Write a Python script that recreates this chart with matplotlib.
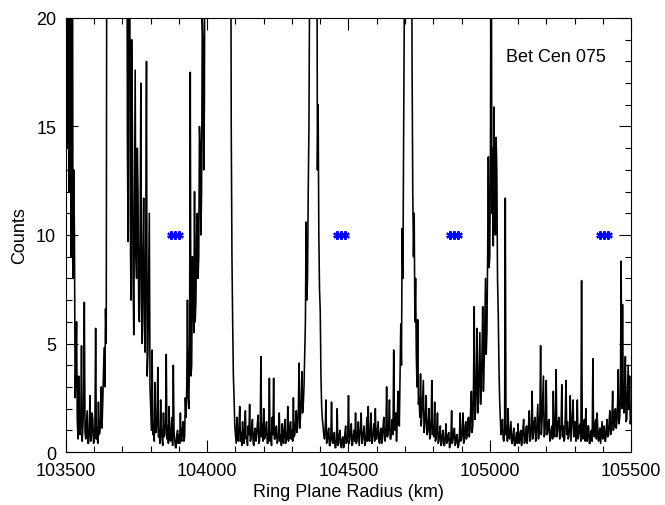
import numpy as np
import matplotlib
matplotlib.use("Agg")
import matplotlib.pyplot as plt
from matplotlib.ticker import MultipleLocator

plt.rcParams["font.family"] = ["Liberation Sans", "DejaVu Sans"]

# radius grid, 2.5 km sampling (km)
radius = np.linspace(103500, 105500, 801)

# counts, two lines per 100 km (values > 20 run off the top)
counts = [
    # 103500
    30, 14, 25, 30, 12, 20, 30, 9, 16, 30, 8, 13, 10, 2.5, 4, 6, 1.5, 0.6, 3.5, 1.0,
    0.8, 1.6, 4.9, 0.5, 1.2, 2.2, 6.9, 0.9, 0.6, 1.3, 1.9, 0.4, 0.4, 1.1, 2.6, 0.5, 0.7, 1.8, 1.5, 0.4,
    # 103600
    0.5, 1.2, 5.7, 0.6, 1.1, 0.4, 2.3, 0.8, 0.9, 1.5, 3.0, 1.1, 2.2, 3.5, 4.8, 3.0, 6.6, 5.0, 30, 30,
    30, 30, 30, 30, 30, 30, 30, 30, 30, 30, 30, 30, 30, 30, 30, 30, 30, 30, 30, 30,
    # 103700
    30, 30, 30, 30, 30, 30, 30, 14, 9.7, 30, 30, 11, 7, 19, 15, 8, 5.4, 12, 17.6, 9,
    8, 14, 12, 6.5, 6, 10, 17, 7, 5, 9, 11.7, 6, 4.6, 10, 18, 3.5, 4.5, 8, 11, 3,
    # 103800
    2.0, 1.0, 4.7, 0.8, 1.3, 0.5, 3.2, 0.9, 0.9, 1.6, 3.9, 0.7, 1.0, 0.4, 2.4, 1.1, 0.6, 0.3, 1.8, 0.7,
    0.8, 1.4, 4.5, 0.6, 1.2, 0.4, 2.1, 0.8, 0.5, 1.0, 1.6, 0.3, 4.0, 0.9, 0.6, 0.2, 0.2, 0.8, 1.0, 0.4,
    # 103900
    0.8, 0.4, 1.8, 0.6, 0.5, 1.1, 1.4, 0.5, 0.7, 2.5, 1.6, 3.0, 7.0, 2.5, 2.0, 5.0, 17.5, 3.5, 4.0, 9.0,
    8.0, 5.5, 12.0, 6.0, 7.0, 10.0, 11.0, 8.0, 9.0, 15.0, 14.0, 10.0, 12.0, 20.0, 19.0, 13.0, 16.0, 30, 30, 30,
    # 104000
    30, 30, 30, 30, 30, 30, 30, 30, 30, 30, 30, 30, 30, 30, 30, 30, 30, 30, 30, 30,
    30, 30, 30, 30, 30, 30, 30, 30, 30, 30, 30, 30, 30, 30, 15, 9, 6, 3.5, 2.5, 1.2,
    # 104100
    0.8, 0.4, 1.6, 0.6, 0.5, 1.2, 2.1, 0.5, 0.9, 0.3, 1.4, 0.7, 0.4, 1.0, 1.9, 0.6, 0.7, 0.3, 1.2, 0.8,
    2.2, 0.5, 0.6, 1.1, 1.5, 0.4, 0.3, 0.9, 1.1, 0.5, 0.8, 1.3, 1.7, 0.4, 0.5, 1.0, 4.4, 0.7, 1.3, 0.5,
    # 104200
    2.0, 0.6, 0.7, 1.1, 1.4, 0.4, 0.4, 0.9, 3.4, 0.5, 0.9, 0.3, 1.6, 0.8, 3.4, 0.6, 0.6, 1.0, 1.2, 0.4,
    0.5, 0.9, 1.8, 0.5, 0.8, 0.3, 1.3, 0.7, 0.4, 1.1, 1.5, 0.4, 0.9, 0.6, 2.1, 0.5, 0.7, 1.2, 1.4, 0.6,
    # 104300
    1.0, 0.5, 2.5, 0.7, 0.8, 1.3, 1.9, 0.9, 1.2, 2.0, 4.1, 1.1, 1.6, 2.4, 3.7, 1.8, 2.2, 3.0, 4.5, 6.0,
    10.6, 7.0, 8.0, 12.0, 15.0, 22, 30, 30, 30, 30, 30, 30, 30, 30, 30, 30, 13, 16, 10, 7.5,
    # 104400
    6.5, 3.5, 2.1, 1.5, 1.2, 0.8, 0.6, 1.0, 2.4, 0.4, 0.5, 0.9, 1.1, 0.3, 0.3, 0.8, 2.3, 0.5, 0.4, 0.7,
    0.9, 0.2, 0.2, 0.6, 2.0, 0.3, 0.4, 0.8, 1.0, 0.3, 0.2, 0.6, 0.7, 0.2, 0.3, 0.9, 1.2, 0.4, 0.5, 0.8,
    # 104500
    2.6, 0.4, 0.6, 1.0, 1.3, 0.3, 0.4, 0.8, 1.0, 0.5, 1.8, 0.4, 0.5, 0.9, 1.4, 0.3, 0.7, 1.1, 1.8, 0.4,
    0.6, 0.9, 1.2, 0.3, 0.4, 0.8, 1.6, 0.5, 2.1, 0.6, 0.5, 1.0, 1.8, 0.4, 0.7, 0.9, 1.3, 0.5, 2.0, 0.6,
    # 104600
    0.6, 1.0, 1.4, 0.5, 0.4, 0.9, 1.1, 0.4, 0.7, 1.2, 1.6, 0.6, 0.5, 1.1, 3.0, 0.7, 0.8, 1.3, 2.4, 0.6,
    0.6, 1.0, 1.5, 0.8, 4.7, 1.2, 1.0, 1.8, 0.5, 1.4, 2.8, 1.5, 1.2, 3.5, 5.9, 4.0, 10.3, 8.0, 14.5, 20,
    # 104700
    30, 30, 30, 30, 30, 22, 24, 30, 30, 30, 18, 12, 9, 11, 6, 8, 4.5, 3.0, 6.1, 2.2,
    2.5, 1.6, 3.6, 1.2, 1.8, 2.5, 3.3, 0.9, 1.2, 1.8, 2.6, 0.8, 0.9, 1.4, 2.0, 0.6, 0.7, 1.5, 3.3, 0.8,
    # 104800
    1.2, 0.7, 2.3, 0.5, 0.6, 1.1, 1.8, 0.4, 0.5, 0.9, 1.2, 0.3, 0.4, 0.8, 1.0, 0.3, 0.3, 0.7, 1.3, 0.4,
    0.5, 0.8, 0.9, 0.2, 0.3, 0.7, 1.9, 0.4, 0.6, 1.0, 1.1, 0.3, 0.4, 0.8, 0.8, 0.2, 0.3, 0.6, 1.8, 0.5,
    # 104900
    0.6, 1.0, 1.8, 0.4, 0.5, 1.2, 1.4, 0.6, 0.8, 1.5, 1.6, 0.7, 1.0, 2.0, 2.8, 0.9, 1.2, 3.0, 6.7, 1.5,
    1.9, 3.5, 5.7, 1.8, 2.4, 4.0, 5.5, 2.2, 3.0, 4.5, 6.7, 2.8, 4.0, 6.0, 8.0, 4.5, 5.5, 9.0, 13.6, 8.5,
    # 105000
    9.0, 14.0, 30, 11, 14, 9.5, 15.9, 12, 10, 14.5, 13, 8, 6.4, 4.0, 2.4, 1.5, 0.8, 1.2, 1.5, 0.6,
    0.5, 1.0, 11.7, 0.8, 1.2, 0.5, 2.0, 0.7, 0.6, 1.0, 1.4, 0.4, 0.4, 0.8, 1.1, 0.3, 0.3, 0.7, 0.9, 0.4,
    # 105100
    1.3, 0.5, 0.4, 0.9, 1.0, 0.3, 0.6, 1.1, 1.5, 0.4, 0.5, 0.9, 1.2, 0.4, 0.8, 1.3, 1.9, 0.5, 0.6, 1.2,
    2.8, 0.6, 0.9, 1.4, 1.6, 0.5, 0.7, 1.5, 2.2, 0.6, 1.0, 1.8, 4.9, 0.8, 1.4, 2.5, 3.5, 0.7, 0.8, 1.6,
    # 105200
    3.3, 0.8, 0.9, 1.4, 1.5, 0.5, 0.6, 1.0, 1.2, 0.6, 2.8, 0.9, 0.7, 1.6, 3.8, 0.7, 1.0, 1.4, 1.6, 0.6,
    0.8, 1.3, 3.1, 0.7, 1.2, 0.5, 0.6, 1.8, 3.3, 0.8, 1.4, 0.6, 0.7, 1.2, 2.6, 0.5, 1.1, 1.7, 2.4, 0.7,
    # 105300
    1.0, 1.4, 0.5, 0.9, 2.4, 0.6, 0.8, 1.2, 1.3, 0.5, 7.9, 0.9, 0.6, 1.1, 1.5, 0.5, 2.0, 0.8, 0.5, 1.2,
    1.2, 0.4, 0.4, 0.9, 1.0, 0.5, 4.3, 0.8, 0.7, 1.3, 1.5, 0.6, 1.8, 1.0, 0.5, 0.9, 1.1, 0.4, 0.9, 1.4,
    # 105400
    0.6, 1.0, 1.2, 0.5, 0.5, 1.1, 1.5, 0.7, 0.8, 1.4, 1.9, 0.8, 0.9, 1.6, 2.8, 1.0, 1.2, 1.9, 2.0, 1.1,
    1.4, 2.2, 3.8, 1.3, 1.6, 2.5, 8.8, 2.0, 6.8, 2.4, 1.8, 3.0, 4.4, 1.4, 1.5, 2.8, 4.0, 2.0, 3.5, 1.3, 1.6,
]

# blue asterisk markers at counts = 10
mark_r = [103871, 103885, 103899,
          104458, 104472, 104486,
          104858, 104872, 104886,
          105389, 105403, 105417]
mark_c = [10] * len(mark_r)

label = "Bet Cen 075"

fig = plt.figure(figsize=(6.65, 5.06), dpi=100)
ax = fig.add_axes([0.0992, 0.1047, 0.8497, 0.8578])

ax.plot(radius, counts, color="black", lw=1.15)
ax.plot(mark_r, mark_c, ls="none", marker=(6, 2, 0), ms=6, mew=1.6, color="blue")

ax.set_xlim(103500, 105500)
ax.set_ylim(0, 20)
ax.xaxis.set_major_locator(MultipleLocator(500))
ax.xaxis.set_minor_locator(MultipleLocator(100))
ax.yaxis.set_major_locator(MultipleLocator(5))
ax.yaxis.set_minor_locator(MultipleLocator(1))
ax.tick_params(which="both", direction="in", top=True, right=True, width=0.8, labelsize=13)
ax.tick_params(which="major", length=8.5)
ax.tick_params(which="minor", length=4.3)
ax.tick_params(axis="x", pad=7)
ax.tick_params(axis="y", pad=7)
for s in ax.spines.values():
    s.set_linewidth(0.8)

ax.set_xlabel("Ring Plane Radius (km)", fontsize=13, labelpad=3)
ax.set_ylabel("Counts", fontsize=13, labelpad=6)
ax.text(0.778, 0.912, label, transform=ax.transAxes, fontsize=13, va="center", ha="left")

fig.savefig("out.png", dpi=100)
